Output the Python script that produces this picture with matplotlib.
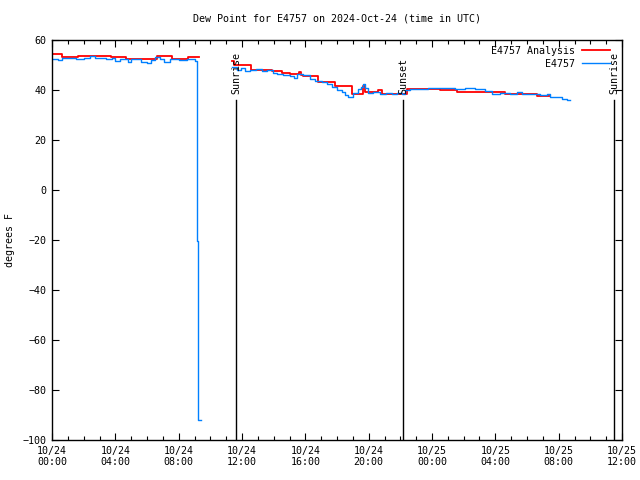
import numpy as np
import matplotlib
matplotlib.use("Agg")
import matplotlib.pyplot as plt

# hours after 2024-10-24 00:00 UTC
analysis_hours = [0.0, 0.65, 1.65, 3.7, 4.7, 6.6, 7.6, 8.6, 9.3,
                  11.37, 11.5, 12.6, 13.9, 14.5, 15.0, 15.6, 15.75, 15.86, 16.8,
                  17.88, 18.95, 19.65, 19.77, 20.6, 20.85, 22.43, 24.5, 25.6,
                  28.6, 30.6, 31.46]
analysis_vals = [54.4, 53.1, 53.6, 53.1, 52.4, 53.6, 52.4, 53.2, np.nan,
                 51.5, 50.0, 48.0, 47.5, 46.8, 46.2, 47.0, 46.0, 45.5, 43.0,
                 41.6, 38.4, 41.6, 39.3, 39.9, 38.4, 40.5, 40.1, 39.2,
                 38.5, 37.5, 37.5]

obs_hours = [0.0, 0.4, 0.6, 1.0, 1.5, 2.0, 2.4, 2.7, 3.0, 3.4, 3.8, 4.0, 4.3,
             4.8, 5.0, 5.3, 5.6, 6.0, 6.25, 6.5, 6.8, 7.1, 7.45, 8.0, 8.5, 9.0,
             9.14, 9.2, 9.39, 9.4,
             11.37, 11.69, 11.94, 12.19, 12.5, 12.89, 13.27, 13.58, 13.96, 14.21,
             14.59, 15.03, 15.29, 15.48, 15.86, 16.3, 16.6, 17.06, 17.37, 17.69,
             18.0, 18.32, 18.5, 18.7, 19.0, 19.33, 19.52, 19.65, 19.77, 19.96,
             20.28, 20.53, 20.72, 21.1, 21.48, 21.79, 22.11, 22.3, 22.6, 23.25,
             23.75, 24.32, 24.8, 25.46, 26.09, 26.72, 27.35, 27.8, 28.3, 28.93,
             29.37, 29.69, 30.2, 30.83, 31.27, 31.46, 31.78, 32.22, 32.53, 32.72]
obs_vals = [52.4, 52.0, 52.8, 52.8, 52.5, 52.9, 53.4, 52.6, 52.8, 52.4, 52.6, 51.7, 52.4,
            51.0, 52.2, 52.4, 51.0, 50.8, 52.0, 53.0, 52.3, 51.3, 52.3, 52.0, 52.4, 51.6,
            -20.5, -92.0, -92.0, np.nan,
            49.0, 48.1, 48.6, 47.7, 47.8, 48.2, 47.5, 47.8, 46.8, 46.4,
            45.8, 45.5, 44.8, 46.2, 45.8, 44.5, 43.6, 43.2, 42.3, 41.2,
            39.8, 39.2, 38.0, 37.3, 38.8, 40.2, 41.2, 42.4, 40.8, 38.8,
            39.3, 39.0, 38.4, 38.8, 38.2, 38.8, 38.4, 39.9, 40.2, 40.3,
            40.7, 40.6, 40.9, 40.5, 40.8, 40.3, 39.5, 38.5, 38.7, 38.5,
            39.2, 38.4, 38.2, 38.1, 38.5, 37.2, 37.0, 36.3, 35.8, 35.8]

sun_hours = [11.62, 22.17, 35.5]
sun_labels = ["Sunrise", "Sunset", "Sunrise"]

tick_hours = list(range(0, 37, 4))
tick_labels = ["10/24\n00:00", "10/24\n04:00", "10/24\n08:00", "10/24\n12:00",
               "10/24\n16:00", "10/24\n20:00", "10/25\n00:00", "10/25\n04:00",
               "10/25\n08:00", "10/25\n12:00"]

plt.rcParams['font.family'] = ['DejaVu Sans Mono']
plt.rcParams['font.size'] = 7.2

fig = plt.figure(figsize=(6.4, 4.8), dpi=100)
ax = fig.add_axes([52 / 640, 40 / 480, 570 / 640, 400 / 480])

ax.plot(analysis_hours, analysis_vals, drawstyle='steps-post', color='#ff0000',
        lw=1.3, label='E4757 Analysis')
ax.plot(obs_hours, obs_vals, drawstyle='steps-post', color='#0080ff',
        lw=1.0, label='E4757')

for h, lab in zip(sun_hours, sun_labels):
    ax.plot([h, h], [-100, 36], color='black', lw=1.0)
    ax.text(h, 38.6, lab, rotation=90, ha='center', va='bottom')

ax.set_xlim(0, 36)
ax.set_ylim(-100, 60)
ax.set_xticks(tick_hours)
ax.set_xticklabels(tick_labels)
ax.set_xticks(range(0, 37), minor=True)
ax.set_yticks(range(-100, 61, 20))
ax.tick_params(direction='in', top=True, right=True, length=5, width=0.8, pad=4)
ax.tick_params(which='minor', direction='in', top=True, length=3, width=0.8)
for s in ax.spines.values():
    s.set_linewidth(1.0)

ax.set_ylabel('degrees F', labelpad=5)
ax.set_title('Dew Point for E4757 on 2024-Oct-24 (time in UTC)', fontsize=7.2, pad=13)

ax.legend(loc='upper right', bbox_to_anchor=(1, 1.016), frameon=False,
          markerfirst=False, handlelength=2.8, borderaxespad=0.8,
          labelspacing=0.3, handletextpad=0.7)

fig.savefig('out.png', dpi=100)
